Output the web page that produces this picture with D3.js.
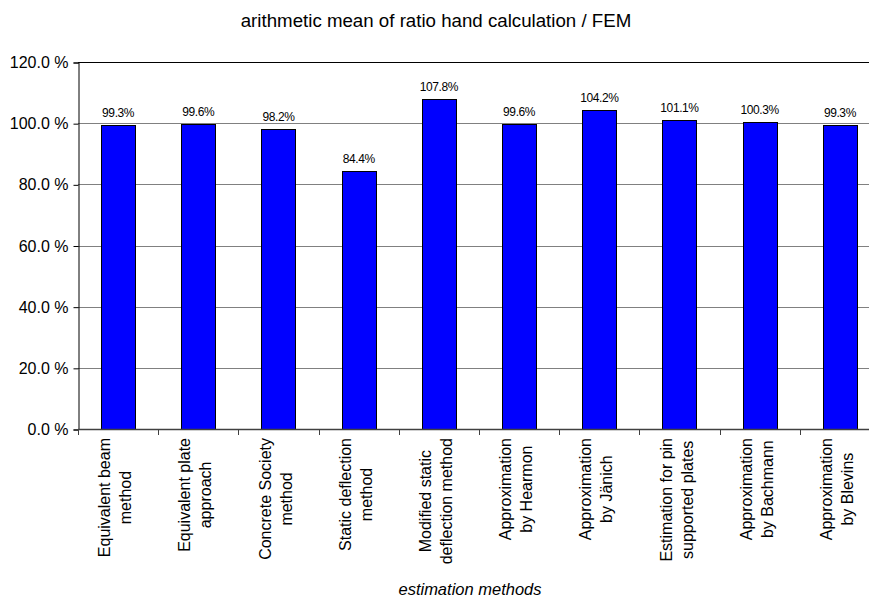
<!DOCTYPE html>
<html>
<head>
<meta charset="utf-8">
<script src="https://cdn.jsdelivr.net/npm/d3@7"></script>
<style>
  html, body { margin: 0; padding: 0; background: #fff; }
  svg { display: block; font-family: "Liberation Sans", Arial, sans-serif; }
</style>
</head>
<body>
<svg id="chart" width="869" height="599"></svg>
<script>
// ---- data ----
const categories = [
  ["Equivalent beam", "method"],
  ["Equivalent plate", "approach"],
  ["Concrete Society", "method"],
  ["Static deflection", "method"],
  ["Modified static", "deflection method"],
  ["Approximation", "by Hearmon"],
  ["Approximation", "by Jänich"],
  ["Estimation for pin", "supported plates"],
  ["Approximation", "by Bachmann"],
  ["Approximation", "by Blevins"]
];
const values = [99.3, 99.6, 98.2, 84.4, 107.8, 99.6, 104.2, 101.1, 100.3, 99.3];
const valueLabels = ["99.3%", "99.6%", "98.2%", "84.4%", "107.8%", "99.6%", "104.2%", "101.1%", "100.3%", "99.3%"];
const yTicks = [0, 20, 40, 60, 80, 100, 120];
const yTickLabels = ["0.0 %", "20.0 %", "40.0 %", "60.0 %", "80.0 %", "100.0 %", "120.0 %"];
const title = "arithmetic mean of ratio hand calculation / FEM";
const xTitle = "estimation methods";

// ---- layout ----
const svg = d3.select("#chart");
const plot = { left: 78, right: 880, top: 62, bottom: 429 };
const keys = categories.map((c, i) => i);

const x = d3.scaleBand().domain(keys).range([plot.left, plot.right])
  .paddingInner(0.576).paddingOuter(0.288);
const step = x.step();
const y = d3.scaleLinear().domain([0, 120]).range([plot.bottom, plot.top]);

// gridlines
svg.append("g").selectAll("line").data(yTicks.filter(t => t > 0)).join("line")
  .attr("x1", plot.left).attr("x2", plot.right)
  .attr("y1", d => Math.round(y(d)) + 0.5).attr("y2", d => Math.round(y(d)) + 0.5)
  .attr("stroke", d => d === 120 ? "#000" : "#808080")
  .attr("stroke-width", 1);

// bars
svg.append("g").selectAll("rect").data(values).join("rect")
  .attr("x", (d, i) => Math.round(x(i)) + 0.5)
  .attr("y", d => Math.round(y(d)) + 0.5)
  .attr("width", Math.round(x.bandwidth()))
  .attr("height", d => Math.round(y(0)) - Math.round(y(d)))
  .attr("fill", "#0000ff")
  .attr("stroke", "#000")
  .attr("stroke-width", 1);

// value labels
svg.append("g").selectAll("text").data(values).join("text")
  .attr("x", (d, i) => x(i) + x.bandwidth() / 2)
  .attr("y", d => y(d) - 8)
  .attr("text-anchor", "middle")
  .attr("font-size", 12)
  .attr("letter-spacing", -0.4)
  .attr("fill", "#000")
  .text((d, i) => valueLabels[i]);

// y axis
const yAxis = d3.axisLeft(y).tickValues(yTicks)
  .tickFormat((d, i) => yTickLabels[i]).tickSize(5).tickPadding(5);
const gy = svg.append("g").attr("transform", `translate(${plot.left + 0.5},0.5)`).call(yAxis);
gy.select(".domain").attr("stroke", "#000");
gy.selectAll(".tick line").attr("stroke", "#000");
gy.selectAll(".tick text").attr("font-size", 16).attr("fill", "#000")
  .attr("font-family", "Liberation Sans, Arial, sans-serif");

// x axis line with ticks between categories
const boundaries = d3.range(categories.length + 1).map(i => plot.left + i * step);
svg.append("line")
  .attr("x1", plot.left).attr("x2", plot.right)
  .attr("y1", Math.round(y(0)) + 0.5).attr("y2", Math.round(y(0)) + 0.5)
  .attr("stroke", "#404040").attr("stroke-width", 1.5);
svg.append("g").selectAll("line").data(boundaries).join("line")
  .attr("x1", d => Math.round(d) + 0.5).attr("x2", d => Math.round(d) + 0.5)
  .attr("y1", Math.round(y(0))).attr("y2", Math.round(y(0)) + 6)
  .attr("stroke", "#404040");

// category labels (rotated, two lines, centred block)
const labelTop = 438;
const lineStep = 21;
const lg = svg.append("g");
categories.forEach((lines, i) => {
  const cx = x(i) + x.bandwidth() / 2;
  const g = lg.append("g");
  const texts = lines.map((ln, j) => g.append("text")
    .attr("x", 0).attr("y", -8 + j * lineStep)
    .attr("text-anchor", "middle")
    .attr("font-size", 16)
    .attr("fill", "#000")
    .text(ln));
  const maxW = d3.max(texts, t => t.node().getComputedTextLength());
  g.attr("transform", `translate(${cx},${labelTop + maxW / 2}) rotate(-90)`);
});

// title
svg.append("text")
  .attr("x", 436).attr("y", 27)
  .attr("text-anchor", "middle")
  .attr("font-size", 18.7)
  .attr("fill", "#000")
  .text(title);

// x axis title
svg.append("text")
  .attr("x", 470).attr("y", 595)
  .attr("text-anchor", "middle")
  .attr("font-size", 16.5)
  .attr("font-style", "italic")
  .attr("fill", "#000")
  .text(xTitle);
</script>
</body>
</html>
